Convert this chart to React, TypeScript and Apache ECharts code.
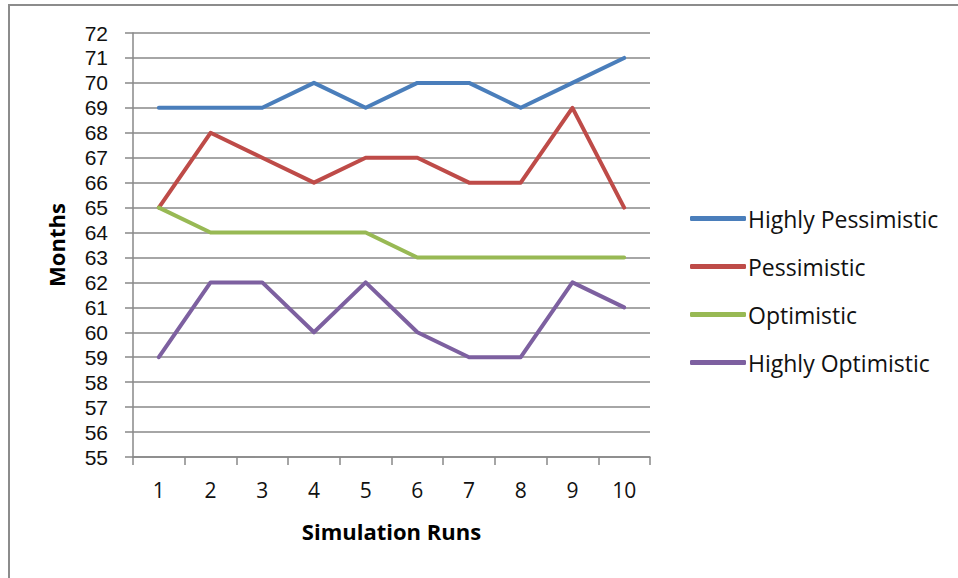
import React, { useEffect, useRef } from "react";
import * as echarts from "echarts";

// Simulation run numbers on the category axis
const runs = ["1", "2", "3", "4", "5", "6", "7", "8", "9", "10"];

// Estimated completion time (months) per scenario
const highlyPessimistic = [69, 69, 69, 70, 69, 70, 70, 69, 70, 71];
const pessimistic = [65, 68, 67, 66, 67, 67, 66, 66, 69, 65];
const optimistic = [65, 64, 64, 64, 64, 63, 63, 63, 63, 63];
const highlyOptimistic = [59, 62, 62, 60, 62, 60, 59, 59, 62, 61];

const seriesNames = ["Highly Pessimistic", "Pessimistic", "Optimistic", "Highly Optimistic"];
const seriesColors = ["#4A7EBB", "#BE4B48", "#98B954", "#7D60A0"];

const FONT = "'Open Sans', 'Noto Sans', sans-serif";
// compact font for the densely packed value-axis labels
const TICK_FONT = "'Liberation Sans', Arial, sans-serif";
const FRAME = "#8c8c8c";

export default function App() {
  const ref = useRef<HTMLDivElement>(null);

  useEffect(() => {
    if (!ref.current) return;
    const chart = echarts.init(ref.current, undefined, { renderer: "svg" });
    const values = [highlyPessimistic, pessimistic, optimistic, highlyOptimistic];

    chart.setOption({
      animation: false,
      backgroundColor: "#ffffff",
      textStyle: { fontFamily: FONT },
      grid: { left: 133, right: 308, top: 33, bottom: 121, containLabel: false },
      legend: {
        orient: "vertical",
        left: 685,
        top: 202,
        itemWidth: 56,
        itemHeight: 5,
        itemGap: 25,
        icon: "roundRect",
        data: seriesNames,
        textStyle: { fontFamily: FONT, fontSize: 23, color: "#111", padding: [0, 0, 0, -3] },
      },
      xAxis: {
        type: "category",
        data: runs,
        boundaryGap: true,
        name: "Simulation Runs",
        nameLocation: "middle",
        nameGap: 63,
        nameTextStyle: { fontFamily: FONT, fontSize: 22, fontWeight: "bold", color: "#000" },
        axisLine: { lineStyle: { color: "#888", width: 1.5 } },
        axisTick: { show: true, length: 8, lineStyle: { color: "#888", width: 1.5 } },
        axisLabel: { fontFamily: FONT, fontSize: 21, lineHeight: 22, color: "#111", margin: 22 },
        splitLine: { show: false },
      },
      yAxis: {
        type: "value",
        min: 55,
        max: 72,
        interval: 1,
        name: "Months",
        nameLocation: "middle",
        nameGap: 66,
        nameTextStyle: { fontFamily: FONT, fontSize: 22, fontWeight: "bold", color: "#000" },
        axisLine: { show: true, lineStyle: { color: "#888", width: 1.5 } },
        axisTick: { show: true, length: 8, lineStyle: { color: "#888", width: 1.5 } },
        axisLabel: { fontFamily: TICK_FONT, fontSize: 21, lineHeight: 22, color: "#111", margin: 25 },
        splitLine: { show: true, lineStyle: { color: "#888", width: 1.5 } },
      },
      series: seriesNames.map((name, i) => ({
        name,
        type: "line",
        data: values[i],
        symbol: "none",
        lineStyle: { color: seriesColors[i], width: 4, cap: "round", join: "round" },
        itemStyle: { color: seriesColors[i] },
      })),
    });

    return () => chart.dispose();
  }, []);

  return (
    <div style={{ position: "absolute", left: 0, top: 0, width: 958, height: 578, background: "#fff" }}>
      <div ref={ref} style={{ position: "absolute", left: 0, top: 0, width: 958, height: 578 }} />
      {/* outer chart frame: top and left edges */}
      <div
        style={{
          position: "absolute",
          left: 8,
          top: 4,
          width: 960,
          height: 600,
          boxSizing: "border-box",
          borderTop: `2px solid ${FRAME}`,
          borderLeft: `2px solid ${FRAME}`,
          pointerEvents: "none",
        }}
      />
    </div>
  );
}
